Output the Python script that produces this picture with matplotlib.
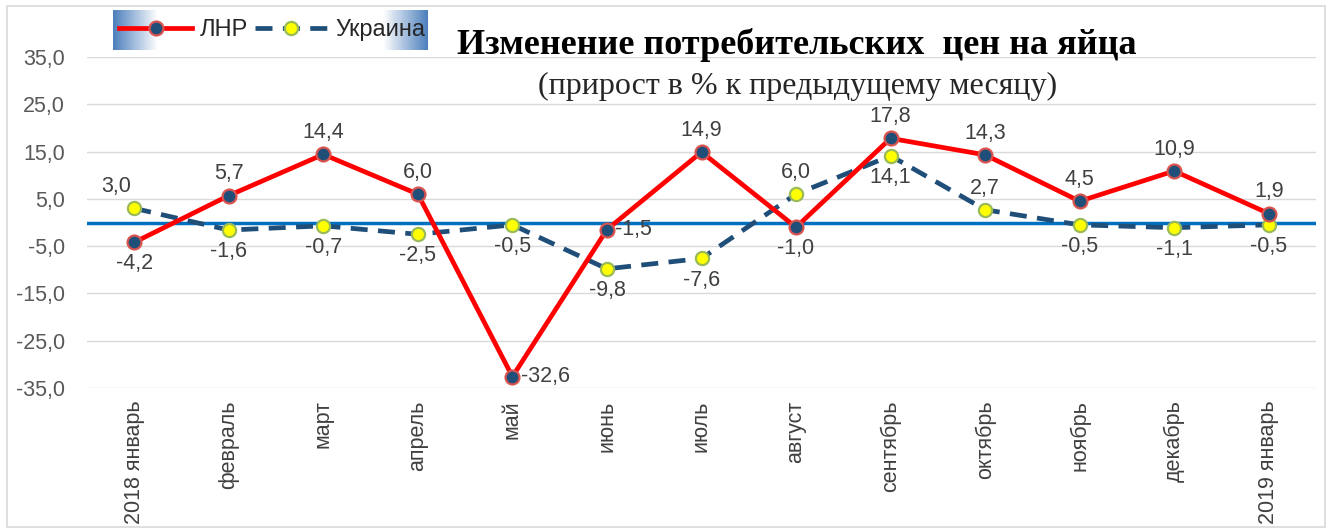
import numpy as np
import matplotlib.pyplot as plt
from matplotlib.patches import Rectangle
from matplotlib.colors import LinearSegmentedColormap

# данные
months = ['2018 январь', 'февраль', 'март', 'апрель', 'май', 'июнь', 'июль',
          'август', 'сентябрь', 'октябрь', 'ноябрь', 'декабрь', '2019 январь']
lnr = [-4.2, 5.7, 14.4, 6.0, -32.6, -1.5, 14.9, -1.0, 17.8, 14.3, 4.5, 10.9, 1.9]
ukr = [3.0, -1.6, -0.7, -2.5, -0.5, -9.8, -7.6, 6.0, 14.1, 2.7, -0.5, -1.1, -0.5]
yticks = [-35, -25, -15, -5, 5, 15, 25, 35]

# где ставить подписи: a - сверху, b - снизу, r - справа, al - сверху слева
pos_lnr = ['b', 'a', 'a', 'a', 'r', 'r', 'a', 'b', 'a', 'a', 'a', 'a', 'a']
pos_ukr = ['al', 'b', 'b', 'b', 'b', 'b', 'b', 'a', 'b', 'a', 'b', 'b', 'b']

plt.rcParams['font.family'] = ['Liberation Sans', 'DejaVu Sans']

fig = plt.figure(figsize=(13.34, 5.31), dpi=100)
fig.patches.append(Rectangle((7/1334, 4/531), 1318/1334, 521/531, transform=fig.transFigure,
                             fill=False, edgecolor='#d9d9d9', linewidth=1.2))

ax = fig.add_axes([87/1334, 1-388/531, 1229/1334, 331/531])
x = np.arange(len(months))

ax.axhline(0, color='#0070c0', linewidth=2.5, zorder=2)
ax.plot(x, ukr, color='#1f4e79', linewidth=3.4, dashes=(3.6, 2.2),
        marker='o', markersize=9.5, markerfacecolor='#ffff00',
        markeredgecolor='#9bbb59', markeredgewidth=1.6, zorder=3, label='Украина')
ax.plot(x, lnr, color='#ff0000', linewidth=3.4, marker='o', markersize=10,
        markerfacecolor='#1f4e79', markeredgecolor='#d9534f', markeredgewidth=1.6,
        zorder=4, label='ЛНР')

def fmt(v):
    return ('%.1f' % v).replace('.', ',')

offs = {'a': (0, 8, 'center', 'bottom'), 'b': (0, -8, 'center', 'top'),
        'r': (6, 0, 'left', 'center'), 'al': (-13, 8, 'center', 'bottom')}
for vals, poss in [(lnr, pos_lnr), (ukr, pos_ukr)]:
    for i, (v, p) in enumerate(zip(vals, poss)):
        dx, dy, ha, va = offs[p]
        ax.annotate(fmt(v), (i, v), xytext=(dx, dy), textcoords='offset points',
                    ha=ha, va=va, fontsize=15.5, color='#404040', zorder=5)

ax.set_xlim(-0.5, len(months) - 0.5)
ax.set_ylim(-35, 35)
ax.set_yticks(yticks)
ax.set_yticklabels([fmt(t) for t in yticks], fontsize=15.5, color='#595959')
ax.set_xticks(x)
ax.set_xticklabels(months, rotation=90, fontsize=15.5, color='#404040', va='top')
ax.tick_params(length=0, pad=9)
ax.tick_params(axis='y', pad=16)
ax.grid(axis='y', color='#d9d9d9', linewidth=1)
for s in ax.spines.values():
    s.set_visible(False)

# фон легенды с градиентом
lax = fig.add_axes([113/1334, 1-50/531, 315/1334, 40/531])
cm = LinearSegmentedColormap.from_list('g', ['#4f81bd', '#ffffff', '#ffffff', '#ffffff', '#4f81bd'])
grad = np.concatenate([np.linspace(0, 0.25, 45), np.full(225, 0.5), np.linspace(0.75, 1, 45)])
lax.imshow(grad[np.newaxis, :], aspect='auto', cmap=cm, vmin=0, vmax=1)
lax.axis('off')

h, l = ax.get_legend_handles_labels()
fig.legend(h[::-1], l[::-1], loc='center', bbox_to_anchor=(272/1334, 1-30/531), ncol=2,
           frameon=False, fontsize=17, handlelength=3.1, columnspacing=0.3,
           handletextpad=0.3, labelcolor='#262626')

fig.text(797/1334, 1-45/531, 'Изменение потребительских  цен на яйца', ha='center', va='center',
         fontsize=26, fontweight='bold', family='Liberation Serif')
fig.text(798/1334, 1-86/531, '(прирост в % к предыдущему месяцу)', ha='center', va='center',
         fontsize=23, family='Liberation Serif', color='#262626')

fig.savefig('out.png', dpi=100)
